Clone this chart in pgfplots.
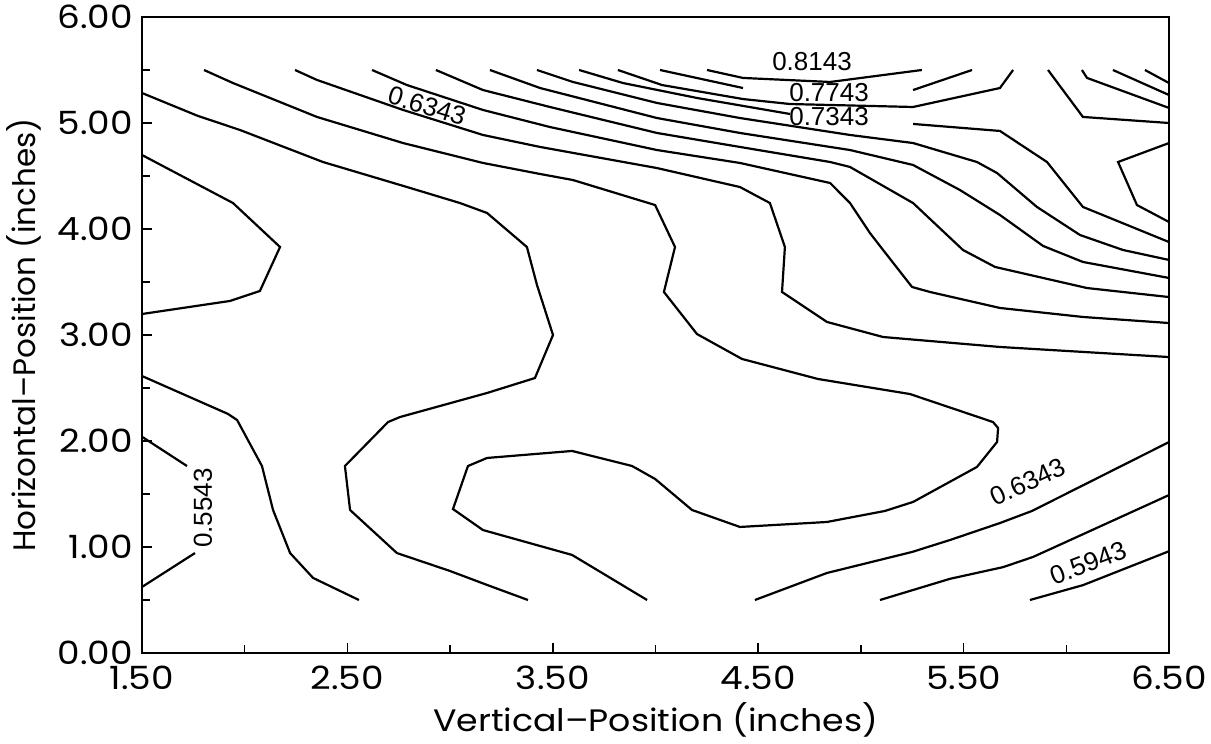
\documentclass[border=0pt]{standalone}
\usepackage{fontspec}
\setmainfont{Poppins}
\newfontfamily\lblfont{Liberation Sans}
\usepackage{pgfplots}
\pgfplotsset{compat=1.18}
\newcommand{\wl}[1]{\scalebox{1.12}[1]{#1}}
\begin{document}
\begin{tikzpicture}
\useasboundingbox (-71pt,-45.5pt) rectangle (534.5pt,326.5pt);
\begin{axis}[
  scale only axis, width=513.5pt, height=318pt,
  at={(0pt,0pt)}, anchor=south west,
  xmin=1.5, xmax=6.5, ymin=0, ymax=6,
  xtick={1.5,2.5,3.5,4.5,5.5,6.5},
  xticklabels={\wl{1.50},\wl{2.50},\wl{3.50},\wl{4.50},\wl{5.50},\wl{6.50}},
  minor xtick={2,3,4,5,6},
  ytick={0,1,2,3,4,5,6},
  yticklabels={\wl{0.00},\wl{1.00},\wl{2.00},\wl{3.00},\wl{4.00},\wl{5.00},\wl{6.00}},
  minor ytick={0.5,1.5,2.5,3.5,4.5,5.5},
  tick align=inside, tick pos=left,
  major tick length=5pt, minor tick length=4pt,
  every tick/.style={black, line width=0.8pt},
  axis line style={line width=1.2pt},
  ticklabel style={font=\fontsize{16}{18}\selectfont},
  xticklabel style={yshift=-3pt},
  yticklabel style={xshift=-1pt},
  xlabel={\wl{Vertical–Position (inches)}},
  ylabel={Horizontal–Position (inches)},
  every axis x label/.style={at={(axis description cs:0.5,0)}, anchor=north, yshift=-21pt, font=\fontsize{15.5}{18}\selectfont},
  every axis y label/.style={at={(axis description cs:-0.115,0.5)}, rotate=90, anchor=center, font=\fontsize{15.5}{18}\selectfont},
  cycle list={black},
  every axis plot/.append style={black, solid, line width=1.1pt, line join=miter, mark=none},
]
% 0.5543 (left)
\addplot coordinates {(1.5,2.04) (1.719,1.764)};
\addplot coordinates {(1.758,0.943) (1.5,0.623)};
% L2
\addplot coordinates {(1.5,2.613) (1.919,2.255) (1.963,2.198) (2.084,1.764) (2.138,1.349) (2.221,0.943) (2.333,0.708) (2.556,0.5)};
% left lobe
\addplot coordinates {(1.5,4.698) (1.943,4.245) (2.172,3.830) (2.074,3.415) (1.928,3.321) (1.5,3.198)};
% L3
\addplot coordinates {(1.5,5.283) (1.773,5.066) (1.977,4.934) (2.381,4.632) (2.790,4.396) (3.048,4.245) (3.180,4.151) (3.374,3.830) (3.423,3.472) (3.501,3.0) (3.413,2.594) (3.180,2.453) (2.756,2.226) (2.698,2.179) (2.488,1.764) (2.513,1.349) (2.741,0.943) (2.999,0.774) (3.194,0.632) (3.379,0.5)};
% L6
\addplot coordinates {(1.802,5.5) (1.943,5.377) (2.352,5.057) (2.771,4.811) (3.160,4.623) (3.438,4.519) (3.598,4.462) (3.998,4.226) (4.095,3.830) (4.041,3.406) (4.202,3.009) (4.421,2.774) (4.791,2.585) (5.239,2.443) (5.643,2.179) (5.668,2.123) (5.663,1.991) (5.565,1.755) (5.254,1.425) (5.117,1.340) (4.835,1.236) (4.411,1.189) (4.178,1.349) (3.998,1.642) (3.886,1.764) (3.594,1.906) (3.180,1.840) (3.087,1.764) (3.014,1.358) (3.160,1.160) (3.594,0.925) (3.959,0.5)};
% T2
\addplot coordinates {(2.245,5.5) (2.352,5.406) (2.771,5.123) (3.160,4.887) (3.438,4.774) (4.007,4.575) (4.411,4.396) (4.557,4.245) (4.630,3.830) (4.616,3.406) (4.835,3.123) (5.108,2.981) (5.677,2.887) (6.5,2.792)};
% T3
\addplot coordinates {(2.620,5.5) (2.790,5.358) (3.160,5.123) (3.486,4.962) (4.007,4.745) (4.411,4.623) (4.850,4.434) (4.947,4.245) (5.044,3.962) (5.108,3.802) (5.249,3.453) (5.336,3.406) (5.677,3.255) (6.081,3.170) (6.5,3.113)};
% T4
\addplot coordinates {(2.931,5.5) (3.160,5.311) (3.486,5.151) (4.007,4.906) (4.411,4.774) (4.850,4.632) (4.947,4.585) (5.254,4.245) (5.497,3.802) (5.653,3.642) (6.101,3.443) (6.5,3.358)};
% T5
\addplot coordinates {(3.194,5.5) (3.438,5.330) (4.007,5.047) (4.411,4.906) (4.947,4.745) (5.254,4.604) (5.482,4.368) (5.677,4.132) (5.887,3.840) (6.081,3.689) (6.5,3.538)};
% T6
\addplot coordinates {(3.423,5.5) (3.598,5.387) (4.007,5.189) (4.411,5.047) (4.947,4.887) (5.254,4.811) (5.565,4.632) (5.663,4.528) (5.857,4.208) (6.067,3.943) (6.276,3.802) (6.5,3.708)};
% T7 (0.7343)
\addplot coordinates {(3.628,5.5) (3.842,5.377) (4.202,5.236) (4.655,5.085)};
\addplot coordinates {(5.254,4.991) (5.677,4.925) (5.906,4.632) (6.081,4.208) (6.5,3.877)};
% T8
\addplot coordinates {(3.817,5.5) (4.032,5.358) (4.426,5.226) (4.655,5.179) (5.254,5.151) (5.677,5.330) (5.741,5.5)};
% T9
\addplot coordinates {(4.022,5.5) (4.426,5.330)};
\addplot coordinates {(5.254,5.311) (5.541,5.5)};
% T10 (0.8143)
\addplot coordinates {(4.251,5.5) (4.426,5.425) (4.850,5.387) (5.297,5.5)};
% right cluster
\addplot coordinates {(5.911,5.5) (6.081,5.057) (6.5,5.0)};
\addplot coordinates {(6.076,5.5) (6.101,5.425) (6.5,5.142)};
\addplot coordinates {(6.227,5.5) (6.5,5.264)};
\addplot coordinates {(6.383,5.5) (6.5,5.377)};
\addplot coordinates {(6.5,4.811) (6.252,4.632) (6.344,4.226) (6.5,4.066)};
% bottom right
\addplot coordinates {(4.484,0.5) (4.835,0.755) (5.249,0.953) (5.434,1.066) (5.677,1.226) (5.833,1.34) (6.5,1.99)};
\addplot coordinates {(5.093,0.5) (5.434,0.70) (5.692,0.81) (5.838,0.906) (6.5,1.49)};
\addplot coordinates {(5.823,0.5) (6.081,0.64) (6.5,0.96)};
% contour labels
\tikzset{clab/.style={font=\lblfont\fontsize{13}{13}\selectfont, inner sep=0pt}}
\node[clab, rotate=-17] at (axis cs:2.888,5.16) {0.6343};
\node[clab] at (axis cs:4.762,5.575) {0.8143};
\node[clab] at (axis cs:4.845,5.283) {0.7743};
\node[clab] at (axis cs:4.845,5.057) {0.7343};
\node[clab, rotate=25] at (axis cs:5.814,1.613) {0.6343};
\node[clab, rotate=21] at (axis cs:6.106,0.849) {0.5943};
\node[clab, rotate=90] at (axis cs:1.797,1.368) {0.5543};
\end{axis}
\end{tikzpicture}
\end{document}
